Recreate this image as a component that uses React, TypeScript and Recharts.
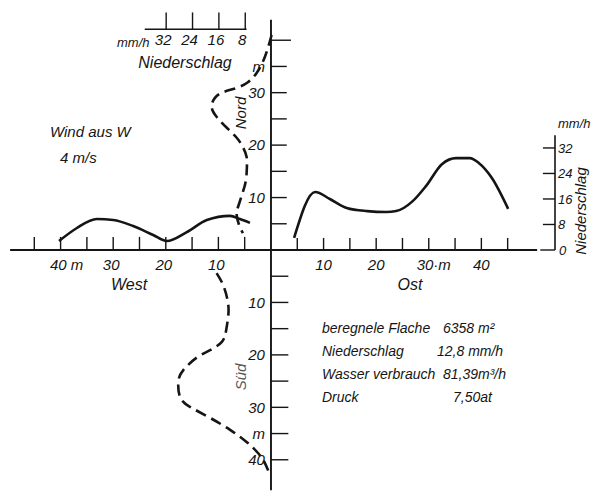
import React from 'react';
import { ComposedChart, Line, XAxis, YAxis, ReferenceLine } from 'recharts';

// West profile: distance from sprinkler (m) and precipitation (mm/h)
const westDist = [40.3, 36.9, 33.1, 30.0, 26.2, 22.4, 19.8, 16.0, 12.2, 7.8, 5.9, 4.0];
const westRain = [2.8, 6.9, 9.7, 9.4, 7.5, 4.7, 2.8, 5.6, 9.4, 10.7, 9.7, 8.5];

// Ost profile
const ostDist = [4.4, 8.4, 11.2, 14.4, 18.3, 21.9, 23.8, 27.0, 29.5, 32.5, 35.2, 37.8, 39.5, 42.0, 45.1];
const ostRain = [3.8, 18.2, 16.0, 13.2, 12.2, 11.9, 12.2, 15.4, 20.1, 26.9, 28.8, 28.8, 27.3, 22.6, 12.9];

// Nord profile (dashed)
const nordDist = [41.0, 36.9, 33.8, 32.0, 30.9, 30.1, 29.0, 27.3, 25.4, 23.3, 21.4, 19.6, 17.8, 15.8, 13.3, 10.9, 8.2, 6.7, 4.8, 3.2];
const nordRain = [0.0, 2.0, 4.5, 7.2, 10.6, 14.7, 17.2, 18.2, 16.7, 13.6, 10.6, 8.7, 7.6, 7.5, 7.8, 8.8, 10.2, 10.6, 9.9, 8.7];

// Süd profile (dashed)
const suedDist = [4.4, 6.7, 9.5, 12.1, 15.3, 17.5, 19.1, 20.5, 22.9, 25.1, 28.0, 29.9, 32.0, 34.3, 36.6, 38.8, 40.7, 42.9];
const suedRain = [16.7, 14.7, 13.4, 13.1, 13.8, 15.1, 18.7, 22.7, 26.8, 28.3, 27.8, 24.8, 18.7, 12.6, 7.6, 4.0, 2.0, 0.5];

// Axis ticks and labels
const hTicks = [5, 10, 15, 20, 25, 30, 35, 40, 45];
const westLabels = ['', '10', '', '20', '', '30', '', '40 m', ''];
const ostLabels = ['', '10', '', '20', '', '30·m', '', '40', ''];
const vTicks = [5, 10, 15, 20, 25, 30, 35, 40];
const nordLabels = ['', '10', '', '20', '', '30', 'm', ''];
const suedLabels = ['', '10', '', '20', '', '30', 'm', '40'];
const rainTicks = [8, 16, 24, 32];
const rainLabels = ['8', '16', '24', '32'];

const infoLabels = ['beregnele Flache', 'Niederschlag', 'Wasser verbrauch', 'Druck'];
const infoValues = ['6358 m²', '12,8 mm/h', '81,39m³/h', '7,50at'];

const westData = westDist.map((d, i) => ({ x: -d, y: westRain[i] }));
const ostData = ostDist.map((d, i) => ({ x: d, y: ostRain[i] }));
const nordData = nordDist.map((d, i) => ({ x: -nordRain[i], y: d }));
const suedData = suedDist.map((d, i) => ({ x: -suedRain[i], y: -d }));

const INK = '#151515';
const FONT = "'Liberation Sans', Arial, sans-serif";
const lbl = { fontFamily: FONT, fontStyle: 'italic', fontSize: 15, fill: INK };
const lblSmall = { ...lbl, fontSize: 13 };

const txt = (x: number, y: number, s: string, extra: any = {}) => (
  <text x={x} y={y} fontFamily={FONT} fontStyle="italic" fontSize={15} fill={INK} {...extra}>{s}</text>
);

export default function App() {
  const valueX = [443, 437, 443, 453];
  return (
    <div style={{ position: 'absolute', left: 0, top: 0, width: 596, height: 492, background: '#fff' }}>
      <ComposedChart width={596} height={492} margin={{ top: 14, right: 41, bottom: 6, left: 8 }}>
        <XAxis xAxisId="m" type="number" dataKey="x" domain={[-50, 54]} hide allowDataOverflow />
        <XAxis xAxisId="ph" type="number" dataKey="x" domain={[-80, 86]} hide allowDataOverflow />
        <YAxis yAxisId="mv" type="number" domain={[-45, 45]} hide allowDataOverflow />
        <YAxis yAxisId="p" type="number" domain={[-74, 74]} hide allowDataOverflow />

        {/* main axes */}
        <ReferenceLine xAxisId="m" yAxisId="mv" ifOverflow="visible" segment={[{ x: -49.6, y: 0 }, { x: 50.6, y: 0 }]} stroke={INK} strokeWidth={1.8} />
        <ReferenceLine xAxisId="m" yAxisId="mv" ifOverflow="visible" segment={[{ x: 0, y: -45.8 }, { x: 0, y: 43.9 }]} stroke={INK} strokeWidth={1.9} />

        {/* horizontal ticks */}
        {hTicks.map((d, i) => (
          <ReferenceLine key={'w' + d} xAxisId="m" yAxisId="mv" ifOverflow="visible" segment={[{ x: -d, y: 0 }, { x: -d, y: 2.5 }]} stroke={INK} strokeWidth={1.4}
            label={westLabels[i] ? { value: westLabels[i], position: 'bottom', offset: 9, dx: d === 40 ? 6 : -2, ...lbl } : undefined} />
        ))}
        {hTicks.map((d, i) => (
          <ReferenceLine key={'o' + d} xAxisId="m" yAxisId="mv" ifOverflow="visible" segment={[{ x: d, y: 0 }, { x: d, y: 2.3 }]} stroke={INK} strokeWidth={1.4}
            label={ostLabels[i] ? { value: ostLabels[i], position: 'bottom', offset: 9, dx: d === 30 ? 5 : 0, ...lbl } : undefined} />
        ))}

        {/* vertical ticks */}
        {vTicks.map((d, i) => (
          <ReferenceLine key={'n' + d} xAxisId="m" yAxisId="mv" ifOverflow="visible" segment={[{ x: 0, y: d }, { x: d === 40 ? 3.8 : 3.0, y: d }]} stroke={INK} strokeWidth={1.4}
            label={nordLabels[i] ? { value: nordLabels[i], position: 'left', offset: 6, ...lbl } : undefined} />
        ))}
        {vTicks.map((d, i) => (
          <ReferenceLine key={'s' + d} xAxisId="m" yAxisId="mv" ifOverflow="visible" segment={[{ x: 0, y: -d }, { x: 3.3, y: -d }]} stroke={INK} strokeWidth={1.4}
            label={suedLabels[i] ? { value: suedLabels[i], position: 'left', offset: 6, ...lbl } : undefined} />
        ))}

        {/* top-left precipitation scale (for Nord) */}
        <ReferenceLine xAxisId="ph" yAxisId="mv" ifOverflow="visible" segment={[{ x: -38.5, y: 42.1 }, { x: -7.6, y: 42.1 }]} stroke={INK} strokeWidth={1.5} />
        {rainTicks.map((r, i) => (
          <ReferenceLine key={'t' + r} xAxisId="ph" yAxisId="mv" ifOverflow="visible" segment={[{ x: -r, y: 42.1 }, { x: -r, y: 45.3 }]} stroke={INK} strokeWidth={1.4}
            label={{ value: rainLabels[i], position: 'bottom', offset: 5, dx: -3, ...lbl }} />
        ))}

        {/* right precipitation scale (for Ost) */}
        <ReferenceLine xAxisId="m" yAxisId="p" ifOverflow="visible" segment={[{ x: 54, y: 0 }, { x: 54, y: 36 }]} stroke={INK} strokeWidth={1.6} />
        <ReferenceLine xAxisId="m" yAxisId="p" ifOverflow="visible" segment={[{ x: 51.2, y: 0 }, { x: 54, y: 0 }]} stroke={INK} strokeWidth={1.4}
          label={{ value: '0', position: 'right', offset: 4, ...lblSmall }} />
        {rainTicks.map((r, i) => (
          <ReferenceLine key={'r' + r} xAxisId="m" yAxisId="p" ifOverflow="visible" segment={[{ x: 51.7, y: r }, { x: 54, y: r }]} stroke={INK} strokeWidth={1.4}
            label={{ value: rainLabels[i], position: 'right', offset: 3, ...lblSmall }} />
        ))}

        {/* profiles */}
        <Line xAxisId="m" yAxisId="p" data={westData} dataKey="y" type="monotone" stroke={INK} strokeWidth={2.6} dot={false} isAnimationActive={false} />
        <Line xAxisId="m" yAxisId="p" data={ostData} dataKey="y" type="monotone" stroke={INK} strokeWidth={2.6} dot={false} isAnimationActive={false} />
        <Line xAxisId="ph" yAxisId="mv" data={nordData} dataKey="y" type="natural" stroke={INK} strokeWidth={2.6} strokeDasharray="11 6" dot={false} isAnimationActive={false} />
        <Line xAxisId="ph" yAxisId="mv" data={suedData} dataKey="y" type="natural" stroke={INK} strokeWidth={2.6} strokeDasharray="11 6" dot={false} isAnimationActive={false} />

        {/* annotations */}
        <g>
          {txt(117, 47, 'mm/h', { fontSize: 13 })}
          {txt(185, 68, 'Niederschlag', { textAnchor: 'middle', fontSize: 16 })}
          {txt(50, 137, 'Wind aus W')}
          {txt(60, 163, '4 m/s')}
          {txt(129, 290, 'West', { textAnchor: 'middle', fontSize: 16 })}
          {txt(410, 290, 'Ost', { textAnchor: 'middle', fontSize: 16 })}
          {txt(558, 128, 'mm/h', { fontSize: 13 })}
          <text x={0} y={0} transform="translate(586 211) rotate(-90)" textAnchor="middle" fontFamily={FONT} fontStyle="italic" fontSize={15} fill={INK}>Niederschlag</text>
          <text x={0} y={0} transform="translate(246 113) rotate(-90)" textAnchor="middle" fontFamily={FONT} fontStyle="italic" fontSize={15} fill={INK}>Nord</text>
          <text x={0} y={0} transform="translate(246 377) rotate(-90)" textAnchor="middle" fontFamily={FONT} fontStyle="italic" fontSize={15} fill="#555">Süd</text>
          {infoLabels.map((s, i) => (
            <g key={s}>
              {txt(322, 333 + i * 23, s, { fontSize: 14 })}
              {txt(valueX[i], 333 + i * 23, infoValues[i], { fontSize: 14 })}
            </g>
          ))}
        </g>
      </ComposedChart>
    </div>
  );
}
